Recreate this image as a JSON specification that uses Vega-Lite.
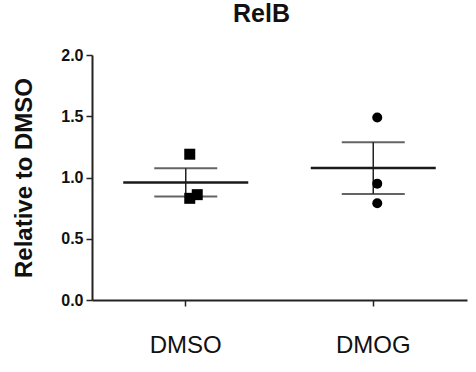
{
  "$schema": "https://vega.github.io/schema/vega-lite/v6.json",
  "autosize": "none",
  "width": 375,
  "height": 245,
  "padding": {"left": 92, "top": 55, "right": 9, "bottom": 72},
  "background": "white",
  "title": {"text": "RelB", "font": "Liberation Sans", "fontSize": 25, "fontWeight": "bold", "color": "#111", "offset": 20, "dx": -18},
  "data": {"values": [
    {"group": "DMSO", "value": 1.19, "side": "c"},
    {"group": "DMSO", "value": 0.83, "side": "c"},
    {"group": "DMSO", "value": 0.86, "side": "r"},
    {"group": "DMOG", "value": 1.49, "side": "c"},
    {"group": "DMOG", "value": 0.95, "side": "c"},
    {"group": "DMOG", "value": 0.79, "side": "c"}
  ]},
  "config": {
    "view": {"stroke": null},
    "axis": {"grid": false, "domainColor": "#222", "domainWidth": 2, "tickColor": "#222", "tickWidth": 1.5, "tickSize": 6, "labelColor": "#111", "titleColor": "#111", "labelFont": "Liberation Sans", "titleFont": "Liberation Sans"}
  },
  "encoding": {
    "x": {"field": "group", "type": "nominal", "sort": ["DMSO", "DMOG"],
      "scale": {"paddingInner": 0, "paddingOuter": 0},
      "axis": {"title": null, "labelAngle": 0, "labelFontSize": 24, "labelFontWeight": "normal", "labelPadding": 27}}
  },
  "layer": [
    {
      "mark": {"type": "errorbar", "extent": "stderr", "color": "#222", "thickness": 1.5, "ticks": {"size": 63, "thickness": 2, "color": "#222"}},
      "encoding": {
        "y": {"field": "value", "type": "quantitative", "scale": {"domain": [0, 2]},
          "axis": {"title": "Relative to DMSO", "titleFontSize": 24, "titleFontWeight": "bold", "titlePadding": 24, "values": [0, 0.5, 1, 1.5, 2], "format": ".1f", "labelFontSize": 16, "labelFontWeight": "bold", "labelPadding": 3}}
      }
    },
    {
      "mark": {"type": "tick", "color": "#1a1a1a", "size": 125, "thickness": 2.5},
      "encoding": {"y": {"aggregate": "mean", "field": "value", "type": "quantitative"}}
    },
    {
      "mark": {"type": "point", "filled": true, "opacity": 1, "color": "#000"},
      "encoding": {
        "y": {"field": "value", "type": "quantitative"},
        "xOffset": {"field": "side", "type": "nominal", "scale": {"type": "ordinal", "domain": ["c", "r"], "range": [94, 109]}},
        "shape": {"field": "group", "type": "nominal", "scale": {"domain": ["DMSO", "DMOG"], "range": ["square", "circle"]}, "legend": null},
        "size": {"field": "group", "type": "nominal", "scale": {"domain": ["DMSO", "DMOG"], "range": [121, 100]}, "legend": null}
      }
    }
  ]
}
